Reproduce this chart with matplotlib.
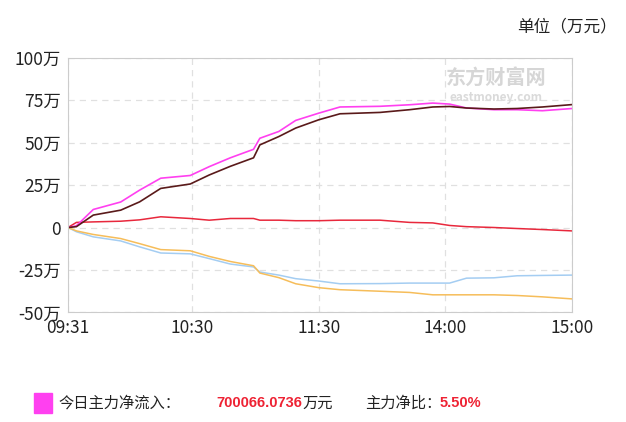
import matplotlib
matplotlib.use("Agg")
import matplotlib.pyplot as plt
from matplotlib.patches import Rectangle

plt.rcParams['font.family'] = ['Noto Sans CJK SC', 'DejaVu Sans']

# minute index within the trading day (0 = 09:31, 239 = 15:00)
minute_idx = [0, 4, 12, 25, 34, 44, 58, 67, 77, 88, 91, 100, 108, 119,
              129, 148, 162, 173, 181, 189, 202, 213, 225, 239]

# values in 万 (of 万元)
main_net = [0, 1.0, 10.6, 15.0, 22.0, 29.0, 30.6, 35.8, 41.0, 46.0, 52.5, 56.5,
            63.0, 67.3, 70.9, 71.3, 72.2, 73.2, 72.6, 70.3, 69.3, 69.3, 68.7, 70.0]
super_large = [0, 0.5, 7.3, 10.2, 15.1, 23.0, 25.6, 30.9, 36.0, 41.0, 48.6, 53.5,
               58.5, 63.4, 66.9, 67.7, 69.3, 70.9, 71.2, 70.3, 69.7, 70.0, 70.9, 72.3]
large = [0, 3.0, 3.3, 3.7, 4.5, 6.3, 5.3, 4.3, 5.3, 5.3, 4.3, 4.3,
         4.0, 4.0, 4.3, 4.3, 3.0, 2.7, 1.2, 0.5, 0, -0.6, -1.2, -2.0]
medium = [0, -2.0, -4.1, -6.5, -9.5, -13.0, -13.7, -17.0, -20.0, -22.5, -26.8, -29.5,
          -33.1, -35.4, -36.6, -37.5, -38.2, -39.6, -39.6, -39.6, -39.6, -40.0, -40.8, -42.0]
small = [0, -2.5, -5.5, -7.9, -11.4, -15.0, -15.5, -18.3, -21.5, -23.2, -26.2, -28.0,
         -30.1, -31.5, -33.1, -33.0, -32.7, -32.7, -32.7, -29.8, -29.6, -28.4, -28.2, -28.0]

x_ticks = [0, 59, 119, 179, 239]
x_labels = ["09:31", "10:30", "11:30", "14:00", "15:00"]
y_ticks = [-50, -25, 0, 25, 50, 75, 100]
y_labels = ["-50万", "-25万", "0", "25万", "50万", "75万", "100万"]

fig = plt.figure(figsize=(6.26, 4.22), dpi=100)
ax = fig.add_axes([0.1086, 0.2595, 0.805, 0.6042])

ax.plot(minute_idx, small, color="#a4cdf2", lw=1.1)
ax.plot(minute_idx, medium, color="#f6bd5a", lw=1.1)
ax.plot(minute_idx, large, color="#e8283c", lw=1.1)
ax.plot(minute_idx, main_net, color="#ff40f0", lw=1.2)
ax.plot(minute_idx, super_large, color="#5a1a1a", lw=1.2)

ax.set_xlim(0, 239)
ax.set_ylim(-50, 100)
ax.set_xticks(x_ticks)
ax.set_xticklabels(x_labels)
ax.set_yticks(y_ticks)
ax.set_yticklabels(y_labels)
ax.tick_params(length=0, labelsize=12.5, colors="#222222", pad=5)
ax.grid(True, color="#e0e0e0", linestyle=(0, (5, 4)), lw=0.9)
for s in ax.spines.values():
    s.set_color("#cccccc")

# watermark
ax.text(0.85, 0.922, "东方财富网", transform=ax.transAxes, fontsize=14.5,
        color="#d6d6d6", ha="center", va="center", fontweight="bold")
ax.text(0.85, 0.845, "eastmoney.com", transform=ax.transAxes, fontsize=8.5,
        color="#dadada", ha="center", va="center", fontweight="bold")

fig.text(617 / 626, 1 - 27 / 422, "单位（万元）", fontsize=12, ha="right",
         va="center", color="#222222")

fig.patches.append(Rectangle((34 / 626, 1 - 413 / 422), 18 / 626, 20 / 422,
                             transform=fig.transFigure, color="#ff40f0"))
fig.text(58 / 626, 1 - 403 / 422, "今日主力净流入：", fontsize=11, va="center",
         color="#222222")
fig.text(302 / 626, 1 - 403 / 422, "700066.0736", fontsize=10.5, va="center",
         ha="right", color="#ee2233", fontweight="bold", family="Liberation Sans")
fig.text(302 / 626, 1 - 403 / 422, "万元", fontsize=11, va="center", color="#222222")
fig.text(365 / 626, 1 - 403 / 422, "主力净比：", fontsize=11, va="center",
         color="#222222")
fig.text(440 / 626, 1 - 403 / 422, "5.50%", fontsize=10.5, va="center",
         color="#ee2233", fontweight="bold", family="Liberation Sans")

fig.savefig("out.png", dpi=100)
